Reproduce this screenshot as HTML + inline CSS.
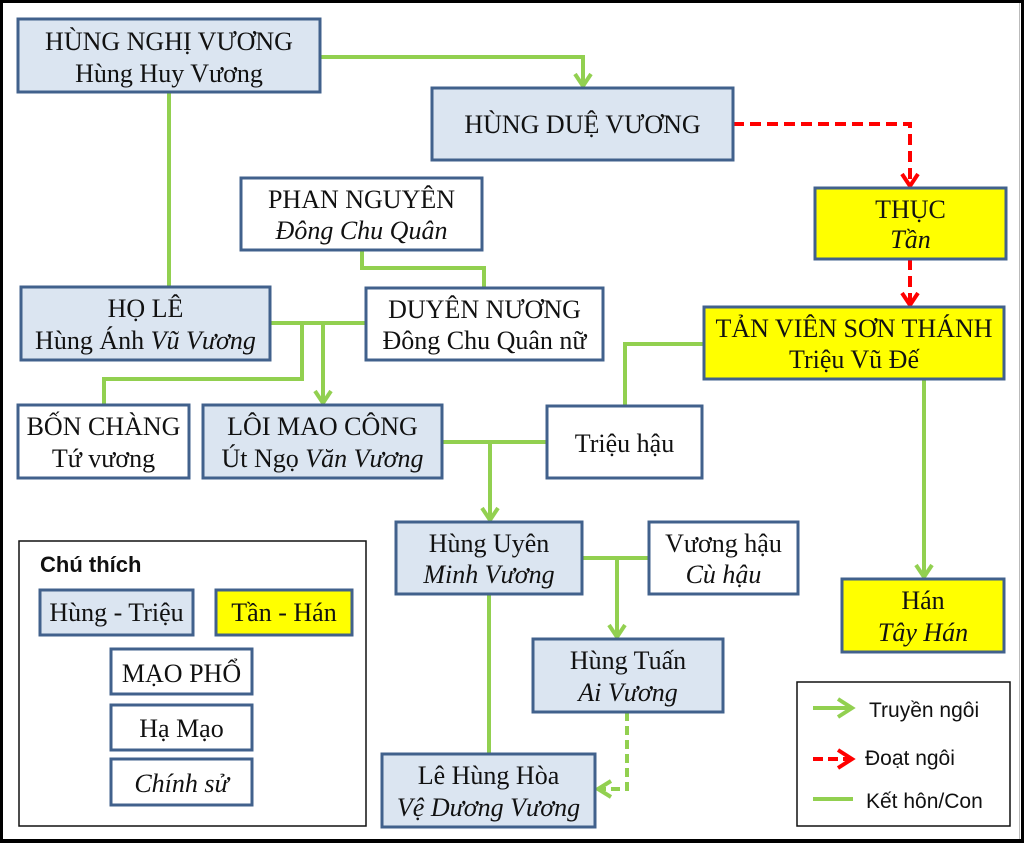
<!DOCTYPE html>
<html>
<head>
<meta charset="utf-8">
<style>
html,body{margin:0;padding:0;background:#000;}
svg{display:block;}
.t{font-family:"Liberation Serif","Times New Roman",serif;font-size:26px;fill:#111;text-anchor:middle;}
.i{font-style:italic;}
.s{font-family:"Liberation Sans",Arial,sans-serif;font-size:21px;fill:#111;}
.b{stroke:#41618c;stroke-width:3;}
.blue{fill:#dbe5f1;}
.yel{fill:#ffff00;}
.wht{fill:#ffffff;}
.g{stroke:#92d050;stroke-width:4;fill:none;}
.r{stroke:#ff0000;stroke-width:4;fill:none;}
</style>
</head>
<body>
<svg width="1024" height="843" viewBox="0 0 1024 843" xmlns="http://www.w3.org/2000/svg">
  <!-- frame -->
  <rect x="0" y="0" width="1024" height="843" fill="#000"/>
  <rect x="3" y="3" width="1018" height="836" fill="#fff"/>
  <line x1="1019.5" y1="3" x2="1019.5" y2="839" stroke="#bbb" stroke-width="1"/>

  <!-- connectors (green solid) -->
  <polyline class="g" points="320,57 583,57 583,86"/>
  <polyline class="g" points="575,74 583,86 591,74"/>
  <line class="g" x1="169" y1="92" x2="169" y2="287"/>
  <polyline class="g" points="362,250 362,268 484,268 484,288"/>
  <line class="g" x1="270" y1="323" x2="366" y2="323"/>
  <polyline class="g" points="302,323 302,379 104,379 104,405"/>
  <line class="g" x1="323" y1="323" x2="323" y2="403"/>
  <polyline class="g" points="315,391 323,403 331,391"/>
  <line class="g" x1="442" y1="442" x2="547" y2="442"/>
  <line class="g" x1="490" y1="442" x2="490" y2="520"/>
  <polyline class="g" points="482,508 490,520 498,508"/>
  <polyline class="g" points="704,344 625,344 625,406"/>
  <line class="g" x1="924" y1="379" x2="924" y2="577"/>
  <polyline class="g" points="916,565 924,577 932,565"/>
  <line class="g" x1="582" y1="558" x2="649" y2="558"/>
  <line class="g" x1="617" y1="558" x2="617" y2="637"/>
  <polyline class="g" points="609,625 617,637 625,625"/>
  <line class="g" x1="489" y1="594" x2="489" y2="754"/>
  <polyline class="g" points="627,712 627,789 599,789" stroke-dasharray="9 5"/>
  <polyline class="g" points="611,781 598,789 611,797"/>

  <!-- red dashed -->
  <polyline class="r" points="733,124 910,124 910,185" stroke-dasharray="11 6"/>
  <polyline class="r" points="902,174 910,186 918,174"/>
  <line class="r" x1="910" y1="259" x2="910" y2="304" stroke-dasharray="11 6"/>
  <polyline class="r" points="902,293 910,305 918,293"/>

  <!-- boxes -->
  <rect class="b blue" x="18" y="19" width="302" height="73"/>
  <text class="t" x="169" y="50">HÙNG NGHỊ VƯƠNG</text>
  <text class="t" x="169" y="82">Hùng Huy Vương</text>

  <rect class="b blue" x="432" y="88" width="301" height="72"/>
  <text class="t" x="582.5" y="133">HÙNG DUỆ VƯƠNG</text>

  <rect class="b yel" x="815" y="188" width="191" height="71"/>
  <text class="t" x="910.5" y="218">THỤC</text>
  <text class="t i" x="910.5" y="248">Tần</text>

  <rect class="b yel" x="704" y="307" width="300" height="72"/>
  <text class="t" x="854" y="337">TẢN VIÊN SƠN THÁNH</text>
  <text class="t" x="854" y="368">Triệu Vũ Đế</text>

  <rect class="b wht" x="241" y="178" width="241" height="72"/>
  <text class="t" x="361.5" y="208">PHAN NGUYÊN</text>
  <text class="t i" x="361.5" y="239">Đông Chu Quân</text>

  <rect class="b blue" x="21" y="287" width="249" height="73"/>
  <text class="t" x="145.5" y="317">HỌ LÊ</text>
  <text class="t" x="145.5" y="349">Hùng Ánh <tspan class="i">Vũ Vương</tspan></text>

  <rect class="b wht" x="366" y="288" width="237" height="72"/>
  <text class="t" x="484.5" y="318">DUYÊN NƯƠNG</text>
  <text class="t" x="484.5" y="349">Đông Chu Quân nữ</text>

  <rect class="b wht" x="18" y="405" width="171" height="73"/>
  <text class="t" x="103.5" y="435">BỐN CHÀNG</text>
  <text class="t" x="103.5" y="467">Tứ vương</text>

  <rect class="b blue" x="203" y="405" width="239" height="73"/>
  <text class="t" x="322.5" y="435">LÔI MAO CÔNG</text>
  <text class="t" x="322.5" y="467">Út Ngọ <tspan class="i">Văn Vương</tspan></text>

  <rect class="b wht" x="547" y="406" width="155" height="72"/>
  <text class="t" x="624.5" y="452">Triệu hậu</text>

  <rect class="b blue" x="396" y="522" width="186" height="72"/>
  <text class="t" x="489" y="552">Hùng Uyên</text>
  <text class="t i" x="489" y="583">Minh Vương</text>

  <rect class="b wht" x="649" y="522" width="149" height="72"/>
  <text class="t" x="723.5" y="552">Vương hậu</text>
  <text class="t i" x="723.5" y="583">Cù hậu</text>

  <rect class="b blue" x="533" y="639" width="190" height="73"/>
  <text class="t" x="628" y="669">Hùng Tuấn</text>
  <text class="t i" x="628" y="701">Ai Vương</text>

  <rect class="b blue" x="382" y="754" width="213" height="73"/>
  <text class="t" x="488.5" y="784">Lê Hùng Hòa</text>
  <text class="t i" x="488.5" y="816">Vệ Dương Vương</text>

  <rect class="b yel" x="842" y="579" width="162" height="73"/>
  <text class="t" x="923" y="609">Hán</text>
  <text class="t i" x="923" y="641">Tây Hán</text>

  <!-- legend left -->
  <rect x="19" y="541" width="347" height="285" fill="#fff" stroke="#111" stroke-width="1.5"/>
  <text x="40" y="572" style="font-family:'Liberation Sans',Arial,sans-serif;font-weight:bold;font-size:22px;fill:#111;">Chú thích</text>
  <rect class="b blue" x="40" y="590" width="153" height="45"/>
  <text class="t" x="116.5" y="621">Hùng - Triệu</text>
  <rect class="b yel" x="216" y="590" width="136" height="45"/>
  <text class="t" x="284" y="621">Tần - Hán</text>
  <rect class="b wht" x="111" y="649" width="141" height="45"/>
  <text class="t" x="181.5" y="682">MẠO PHỔ</text>
  <rect class="b wht" x="111" y="705" width="141" height="45"/>
  <text class="t" x="181.5" y="737">Hạ Mạo</text>
  <rect class="b wht" x="111" y="759" width="141" height="46"/>
  <text class="t i" x="181.5" y="792">Chính sử</text>

  <!-- legend right -->
  <rect x="797" y="682" width="213" height="144" fill="#fff" stroke="#111" stroke-width="1.5"/>
  <line class="g" x1="813" y1="708" x2="851" y2="708"/>
  <polyline class="g" points="838,699 852,708 838,717"/>
  <text class="s" x="869" y="717">Truyền ngôi</text>
  <line class="r" x1="813" y1="759" x2="851" y2="759" stroke-dasharray="10 5"/>
  <polyline class="r" points="838,750 852,759 838,768"/>
  <text class="s" x="865" y="765">Đoạt ngôi</text>
  <line class="g" x1="813" y1="799" x2="853" y2="799"/>
  <text class="s" x="866" y="808">Kết hôn/Con</text>
</svg>
</body>
</html>
